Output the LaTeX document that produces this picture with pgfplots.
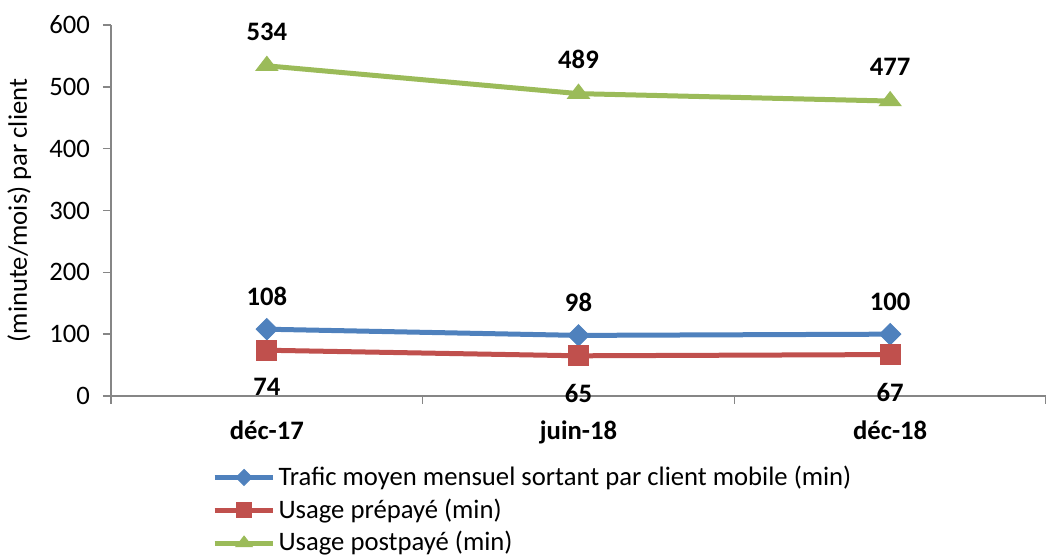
\documentclass[border=0pt]{standalone}
\usepackage{pgfplots}
\pgfplotsset{compat=1.18}
\usepackage{fontspec}
\setmainfont{Carlito}
\newdimen\px \px=0.75pt
\definecolor{cblue}{HTML}{4F81BD}
\definecolor{cred}{HTML}{C0504D}
\definecolor{cgreen}{HTML}{9BBB59}
\definecolor{axgray}{HTML}{868686}
\newcommand{\fs}{\fontsize{20pt}{24pt}\selectfont}
\begin{document}
\fs
\begin{tikzpicture}
\path[use as bounding box] (-111\px,-160\px) rectangle (935\px,396\px);
\begin{axis}[
  anchor=south west, at={(0,0)},
  scale only axis,
  width=935\px, height=371\px,
  xmin=-0.5, xmax=2.5, ymin=0, ymax=600,
  axis lines*=left,
  axis line style={axgray, line width=1.5\px},
  xtick={0,1,2},
  xticklabels={déc-17,juin-18,déc-18},
  xticklabel style={font=\bfseries\fs, yshift=-8\px},
  minor xtick={-0.5,0.5,1.5,2.5},
  major x tick style={draw=none},
  minor tick length=8\px,
  major tick length=8\px,
  ytick={0,100,...,600},
  tick align=outside,
  tick style={axgray, line width=1.5\px},
  yticklabel style={font=\fs, xshift=-4\px},
  ylabel={(minute/mois) par client},
  ylabel style={font=\fs, at={(ticklabel cs:0.5)}, yshift=0\px},
  /pgf/number format/assume math mode=true,
  legend style={draw=none, fill=none, at={(0.108,-0.18)}, anchor=north west,
    font=\fs, row sep=4\px, inner sep=0pt,
    /tikz/every even column/.append style={column sep=2\px}},
  legend cell align=left,
  legend image code/.code={\draw[mark repeat=2,mark phase=2,#1,every mark/.append style={scale=0.75}] plot coordinates {(0pt,0pt) (22pt,0pt) (44pt,0pt)};},
  every node near coord/.append style={font=\bfseries\fs, text=black},
]
\addplot[cblue, line width=5\px, mark=square*, mark size=7.5\px, mark options={solid, rotate=45, line width=1\px},
  nodes near coords, nodes near coords style={anchor=south, yshift=14\px}]
  coordinates {(0,108) (1,98) (2,100)};
\addlegendentry{Trafic moyen mensuel sortant par client mobile (min)}
\addplot[cred, line width=5\px, mark=square*, mark size=10\px, mark options={solid, line width=1\px},
  nodes near coords, nodes near coords style={anchor=north, yshift=-19\px}]
  coordinates {(0,74) (1,65) (2,67)};
\addlegendentry{Usage prépayé (min)}
\addplot[cgreen, line width=5\px, mark=triangle*, mark size=12.5\px, mark options={solid, line width=1\px, yscale=0.75},
  nodes near coords, nodes near coords style={anchor=south, yshift=16\px}]
  coordinates {(0,534) (1,489) (2,477)};
\addlegendentry{Usage postpayé (min)}
\end{axis}
\end{tikzpicture}
\end{document}
